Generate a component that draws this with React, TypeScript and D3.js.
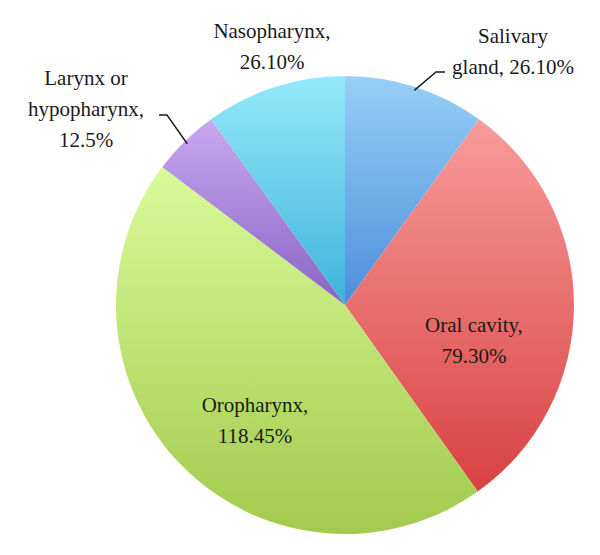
import React, { useEffect, useRef } from "react";
import * as d3 from "d3";

const categories = ["Salivary gland", "Oral cavity", "Oropharynx", "Larynx or hypopharynx", "Nasopharynx"];
const values = [26.1, 79.3, 118.45, 12.5, 26.1];
const labelLines = [
  ["Salivary", "gland, 26.10%"],
  ["Oral cavity,", "79.30%"],
  ["Oropharynx,", "118.45%"],
  ["Larynx or", "hypopharynx,", "12.5%"],
  ["Nasopharynx,", "26.10%"],
];
const topColors = ["#97cff7", "#f99b9b", "#d9fa9a", "#c7a9ef", "#95e9fa"];
const bottomColors = ["#4d8edb", "#d84242", "#a2ca4d", "#8a63c5", "#3db3db"];

const W = 600;
const H = 555;

const App: React.FC = () => {
  const svgRef = useRef<SVGSVGElement>(null);

  useEffect(() => {
    if (!svgRef.current) return;
    const svg = d3.select(svgRef.current);
    svg.selectAll("*").remove();

    const cx = 345, cy = 305, R = 229;

    const defs = svg.append("defs");
    categories.forEach((_, i) => {
      const g = defs
        .append("linearGradient")
        .attr("id", `grad${i}`)
        .attr("x1", 0).attr("y1", 0).attr("x2", 0).attr("y2", 1);
      g.append("stop").attr("offset", "0%").attr("stop-color", topColors[i]);
      g.append("stop").attr("offset", "100%").attr("stop-color", bottomColors[i]);
    });

    const pie = d3.pie<number>().sort(null).value(d => d);
    const arcs = pie(values);
    const arc = d3.arc<d3.PieArcDatum<number>>().innerRadius(0).outerRadius(R);

    const g = svg.append("g").attr("transform", `translate(${cx},${cy})`);
    g.selectAll("path")
      .data(arcs)
      .join("path")
      .attr("d", arc)
      .attr("fill", (_, i) => `url(#grad${i})`);

    const font = "'Liberation Serif', 'DejaVu Serif', serif";
    // centre x and first baseline of each label
    const labelPos = [
      { x: 513, y: 43 },
      { x: 474, y: 332 },
      { x: 255, y: 412 },
      { x: 86, y: 85 },
      { x: 272, y: 38 },
    ];
    const lineGap = 31;

    labelLines.forEach((lines, i) => {
      const t = svg
        .append("text")
        .attr("text-anchor", "middle")
        .attr("fill", "#1a1a1a")
        .style("font-family", font)
        .style("font-size", "21px");
      lines.forEach((ln, j) =>
        t.append("tspan").attr("x", labelPos[i].x).attr("y", labelPos[i].y + j * lineGap).text(ln)
      );
    });

    // leader lines
    const leader = (i: number, sx: number, sy: number, bend: number) => {
      const a = (arcs[i].startAngle + arcs[i].endAngle) / 2;
      const r = R * 0.985;
      const ex = cx + r * Math.sin(a);
      const ey = cy - r * Math.cos(a);
      svg
        .append("path")
        .attr("d", `M${sx},${sy}L${sx + bend},${sy}L${ex},${ey}`)
        .attr("fill", "none")
        .attr("stroke", "#1a1a1a")
        .attr("stroke-width", 1.4);
    };
    leader(0, 445, 72, -9);
    leader(3, 159, 115, 8);
  }, []);

  return (
    <svg
      ref={svgRef}
      width={W}
      height={H}
      style={{ display: "block", position: "absolute", left: 0, top: 0, background: "#fff" }}
    />
  );
};

export default App;
